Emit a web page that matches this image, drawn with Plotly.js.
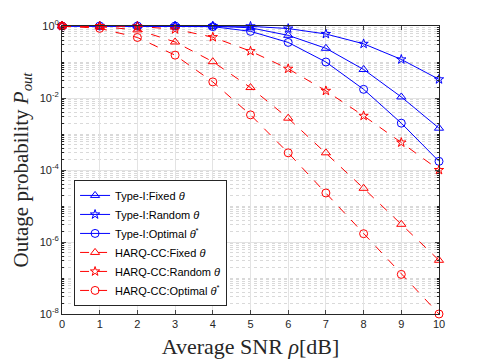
<!DOCTYPE html>
<html>
<head>
<meta charset="utf-8">
<script src="https://cdn.plot.ly/plotly-3.0.1.min.js"></script>
<style>html,body{margin:0;padding:0;background:#fff;}#chart{width:485px;height:363px;}</style>
</head>
<body>
<div id="chart"></div>
<script>
const snr = [0,1,2,3,4,5,6,7,8,9,10];
const type1Fixed   = [1,1,1,1,0.99,0.89,0.55,0.24,0.062,0.0107,0.00145];
const type1Random  = [1,1,1,1,1,0.98,0.85,0.60,0.32,0.118,0.033];
const type1Optimal = [1,1,1,1,0.96,0.71,0.35,0.10,0.0174,0.002,0.000174];
const harqFixed    = [1,0.96,0.78,0.36,0.102,0.0195,0.00275,0.0003,3.1e-5,3.1e-6,3.1e-7];
const harqRandom   = [1,1,0.98,0.81,0.49,0.20,0.065,0.0158,0.0032,0.00058,0.0001];
const harqOptimal  = [1,0.86,0.48,0.155,0.028,0.0034,0.0003,2.3e-5,1.7e-6,1.26e-7,1e-8];
const seriesNames = ["Type-I:Fixed <i>θ</i>","Type-I:Random <i>θ</i>","Type-I:Optimal <i>θ</i><sup>*</sup>",
  "HARQ-CC:Fixed <i>θ</i>","HARQ-CC:Random <i>θ</i>","HARQ-CC:Optimal <i>θ</i><sup>*</sup>"];
const yTickVals = [1,1e-2,1e-4,1e-6,1e-8];
const yTickText = ["10<sup>0</sup>","10<sup>-2</sup>","10<sup>-4</sup>","10<sup>-6</sup>","10<sup>-8</sup>"];

const blue = "#0000FF", red = "#FF0000";
function tr(y, name, color, dash, symbol, size){
  return {x: snr, y: y, name: name, type: "scatter", mode: "lines+markers", cliponaxis: false,
    line: {color: color, width: 1, dash: dash},
    marker: {symbol: symbol, size: size, color: color, line: {color: color, width: 1}}};
}
const data = [
  tr(type1Fixed, seriesNames[0], blue, "solid", "triangle-up-open", 8),
  tr(type1Random, seriesNames[1], blue, "solid", "star-open", 7),
  tr(type1Optimal, seriesNames[2], blue, "solid", "circle-open", 8),
  tr(harqFixed, seriesNames[3], red, "dash", "triangle-up-open", 8),
  tr(harqRandom, seriesNames[4], red, "dash", "star-open", 7),
  tr(harqOptimal, seriesNames[5], red, "dash", "circle-open", 8)
];
const axisColor = "#262626";
const layout = {
  width: 485, height: 363,
  margin: {l: 62, r: 46, t: 26, b: 49},
  paper_bgcolor: "#fff", plot_bgcolor: "#fff",
  font: {family: "Liberation Sans, Arial, sans-serif", size: 11, color: axisColor},
  showlegend: true,
  legend: {x: 0.032, y: 0.028, xanchor: "left", yanchor: "bottom",
    bgcolor: "#fff", bordercolor: axisColor, borderwidth: 1,
    font: {family: "Liberation Sans, Arial, sans-serif", size: 11, color: "#000"},
    itemwidth: 30, tracegroupgap: 0},
  xaxis: {range: [0, 10], tickvals: snr, ticks: "inside", ticklen: 4,
    showline: true, linecolor: axisColor, linewidth: 1, mirror: "ticks",
    showgrid: true, gridcolor: "#e3e3e3", gridwidth: 1, zeroline: false,
    title: {text: "Average SNR <i>ρ</i>[dB]", font: {family: "Liberation Serif, Times New Roman, serif", size: 22, color: axisColor}, standoff: 9}},
  yaxis: {type: "log", range: [-8, 0], tickvals: yTickVals, ticktext: yTickText,
    ticks: "inside", ticklen: 4, showline: true, linecolor: axisColor, linewidth: 1, mirror: "ticks",
    showgrid: true, gridcolor: "#e3e3e3", gridwidth: 1, zeroline: false,
    minor: {dtick: "D1", ticks: "inside", ticklen: 2, tickcolor: axisColor, showgrid: true, gridcolor: "#d9d9d9", griddash: "dot", gridwidth: 1},
    title: {text: "Outage probability <i>P</i><sub><i>out</i></sub>", font: {family: "Liberation Serif, Times New Roman, serif", size: 21, color: axisColor}, standoff: 5}}
};
Plotly.newPlot("chart", data, layout, {staticPlot: true, displayModeBar: false});
</script>
</body>
</html>
